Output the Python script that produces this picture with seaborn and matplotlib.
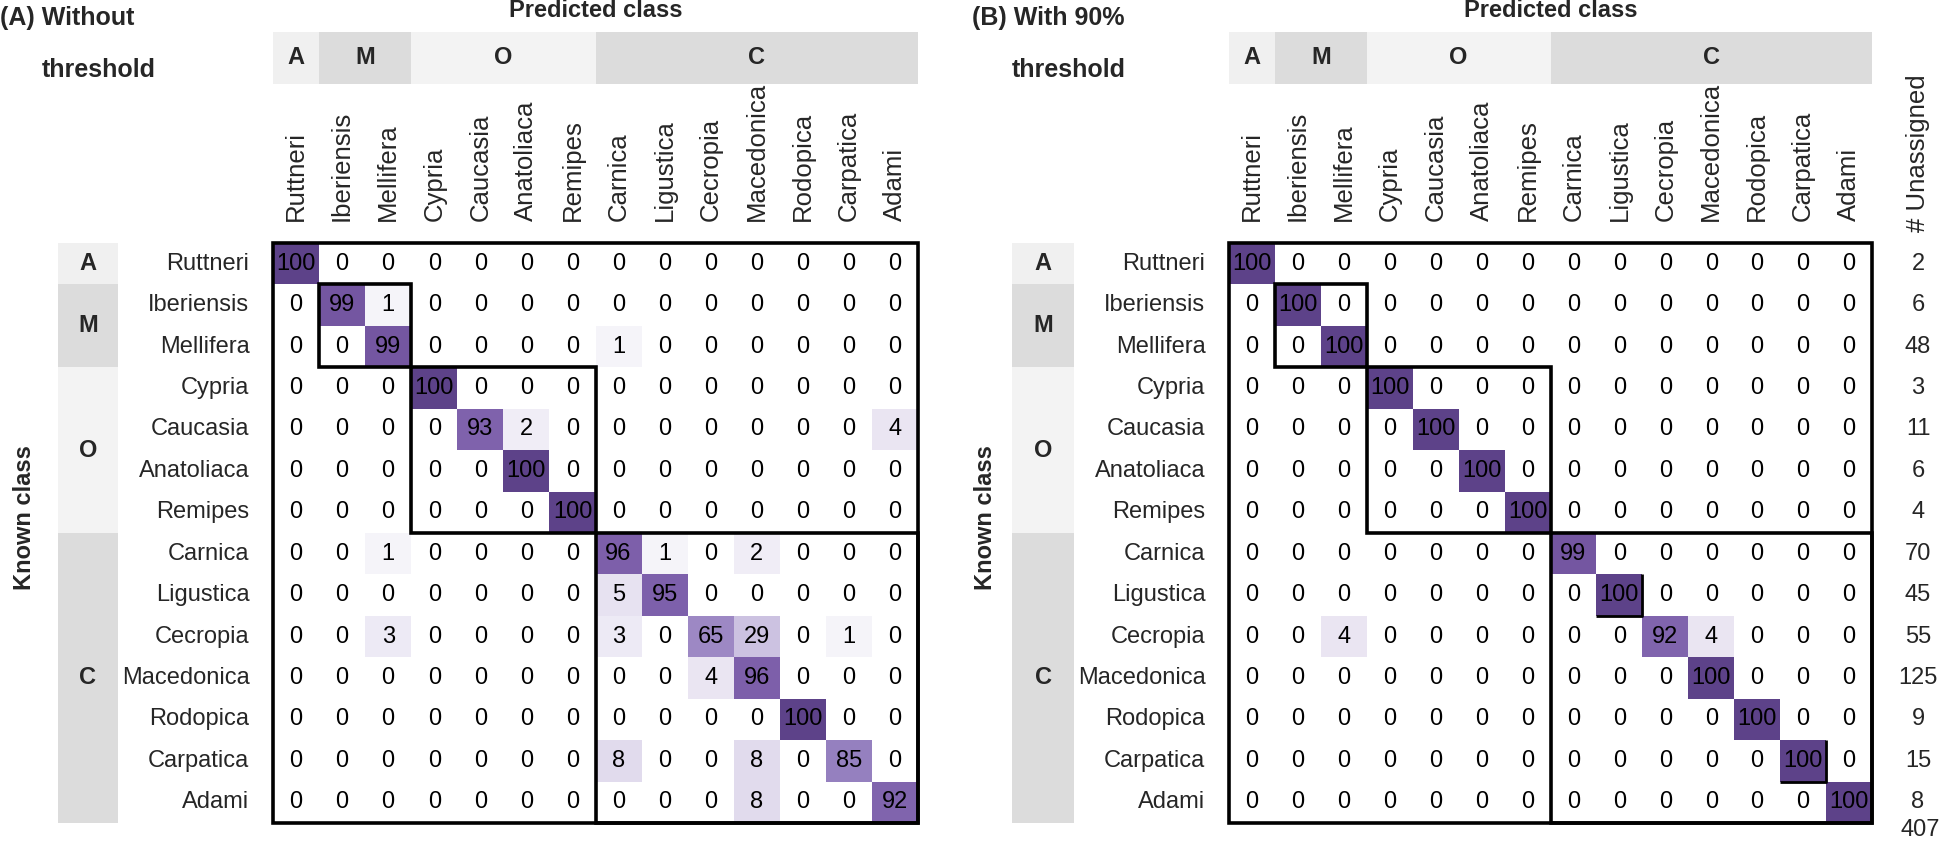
import numpy as np
import pandas as pd
import matplotlib
matplotlib.use('Agg')
import matplotlib.pyplot as plt
from matplotlib.colors import LinearSegmentedColormap
from matplotlib.patches import Rectangle
import seaborn as sns

# Classes and their lineage groups
classes = ['Ruttneri', 'Iberiensis', 'Mellifera', 'Cypria', 'Caucasia', 'Anatoliaca', 'Remipes',
           'Carnica', 'Ligustica', 'Cecropia', 'Macedonica', 'Rodopica', 'Carpatica', 'Adami']
groups = ['A', 'M', 'O', 'C']
group_sizes = [1, 2, 4, 7]
band_colors = ['#f0f0f0', '#dcdcdc', '#f3f3f3', '#dcdcdc']

# (A) % assigned, without threshold
conf_no_thr = [
    [100, 0, 0, 0, 0, 0, 0, 0, 0, 0, 0, 0, 0, 0],
    [0, 99, 1, 0, 0, 0, 0, 0, 0, 0, 0, 0, 0, 0],
    [0, 0, 99, 0, 0, 0, 0, 1, 0, 0, 0, 0, 0, 0],
    [0, 0, 0, 100, 0, 0, 0, 0, 0, 0, 0, 0, 0, 0],
    [0, 0, 0, 0, 93, 2, 0, 0, 0, 0, 0, 0, 0, 4],
    [0, 0, 0, 0, 0, 100, 0, 0, 0, 0, 0, 0, 0, 0],
    [0, 0, 0, 0, 0, 0, 100, 0, 0, 0, 0, 0, 0, 0],
    [0, 0, 1, 0, 0, 0, 0, 96, 1, 0, 2, 0, 0, 0],
    [0, 0, 0, 0, 0, 0, 0, 5, 95, 0, 0, 0, 0, 0],
    [0, 0, 3, 0, 0, 0, 0, 3, 0, 65, 29, 0, 1, 0],
    [0, 0, 0, 0, 0, 0, 0, 0, 0, 4, 96, 0, 0, 0],
    [0, 0, 0, 0, 0, 0, 0, 0, 0, 0, 0, 100, 0, 0],
    [0, 0, 0, 0, 0, 0, 0, 8, 0, 0, 8, 0, 85, 0],
    [0, 0, 0, 0, 0, 0, 0, 0, 0, 0, 8, 0, 0, 92],
]

# (B) % assigned, with 90% threshold
conf_thr90 = [
    [100, 0, 0, 0, 0, 0, 0, 0, 0, 0, 0, 0, 0, 0],
    [0, 100, 0, 0, 0, 0, 0, 0, 0, 0, 0, 0, 0, 0],
    [0, 0, 100, 0, 0, 0, 0, 0, 0, 0, 0, 0, 0, 0],
    [0, 0, 0, 100, 0, 0, 0, 0, 0, 0, 0, 0, 0, 0],
    [0, 0, 0, 0, 100, 0, 0, 0, 0, 0, 0, 0, 0, 0],
    [0, 0, 0, 0, 0, 100, 0, 0, 0, 0, 0, 0, 0, 0],
    [0, 0, 0, 0, 0, 0, 100, 0, 0, 0, 0, 0, 0, 0],
    [0, 0, 0, 0, 0, 0, 0, 99, 0, 0, 0, 0, 0, 0],
    [0, 0, 0, 0, 0, 0, 0, 0, 100, 0, 0, 0, 0, 0],
    [0, 0, 4, 0, 0, 0, 0, 0, 0, 92, 4, 0, 0, 0],
    [0, 0, 0, 0, 0, 0, 0, 0, 0, 0, 100, 0, 0, 0],
    [0, 0, 0, 0, 0, 0, 0, 0, 0, 0, 0, 100, 0, 0],
    [0, 0, 0, 0, 0, 0, 0, 0, 0, 0, 0, 0, 100, 0],
    [0, 0, 0, 0, 0, 0, 0, 0, 0, 0, 0, 0, 0, 100],
]
unassigned = [2, 6, 48, 3, 11, 6, 4, 70, 45, 55, 125, 9, 15, 8]

# stray edge marks in panel B (row, col of cell)
edge_marks_b = [(8, 8), (12, 12)]

cmap = LinearSegmentedColormap.from_list('bee', [
    (0.00, '#ffffff'), (0.005, '#f8f7fb'), (0.01, '#f3f1f8'), (0.05, '#e6e1f0'),
    (0.10, '#ddd6eb'), (0.30, '#cbc1e0'), (0.65, '#9d88c4'), (0.85, '#9580bf'),
    (0.92, '#8064ad'), (0.99, '#7a5ca8'), (1.00, '#5d4289')])

sns.set_theme(style='white')
plt.rcParams['font.family'] = ['Liberation Sans', 'DejaVu Sans']

FIG_W, FIG_H = 1946, 844
FS = 17
fig = plt.figure(figsize=(FIG_W / 100, FIG_H / 100), dpi=100)


def px_axes(left, top, w, h):
    return [left / FIG_W, 1 - (top + h) / FIG_H, w / FIG_W, h / FIG_H]


HM_TOP, HM_H = 243, 580


def draw_panel(ax, data, left, width, band_l, band_r, known_x):
    cw = width / len(classes)
    ch = HM_H / len(classes)
    xp = lambda px: (px - left) / cw
    yp = lambda py: (py - HM_TOP) / ch

    df = pd.DataFrame(data, index=classes, columns=classes)
    sns.heatmap(df, ax=ax, cmap=cmap, vmin=0, vmax=100, annot=True, fmt='d', cbar=False,
                xticklabels=classes, yticklabels=classes,
                annot_kws={'color': 'black', 'fontsize': FS})
    ax.xaxis.tick_top()
    ax.set_xticklabels(classes, rotation=90, fontsize=18.5)
    ax.set_yticklabels(classes, rotation=0, fontsize=FS)
    ax.tick_params(axis='x', top=True, bottom=False, labeltop=True, labelbottom=False,
                   length=0, pad=16)
    ax.tick_params(axis='y', length=0, pad=17)
    ax.set_xlabel('')
    ax.set_ylabel('')

    start = 0
    for g, n, col in zip(groups, group_sizes, band_colors):
        # top band
        ax.add_patch(Rectangle((start, yp(32)), n, yp(84) - yp(32), fc=col, ec='none', clip_on=False))
        ax.text(start + n / 2, yp(58), g, ha='center', va='center', fontsize=FS,
                fontweight='bold', clip_on=False)
        # left band
        ax.add_patch(Rectangle((xp(band_l), start), xp(band_r) - xp(band_l), n, fc=col, ec='none',
                               clip_on=False))
        ax.text((xp(band_l) + xp(band_r)) / 2, start + n / 2, g, ha='center', va='center',
                fontsize=FS, fontweight='bold', clip_on=False)
        if n > 1:
            ax.add_patch(Rectangle((start, start), n, n, fill=False, ec='black', lw=2.6,
                                   clip_on=False, zorder=5))
        start += n
    ax.add_patch(Rectangle((0, 0), len(classes), len(classes), fill=False, ec='black', lw=2.6,
                           clip_on=False, zorder=5))

    ax.text(len(classes) / 2, yp(17), 'Predicted class', ha='center', va='baseline',
            fontsize=FS, fontweight='bold', clip_on=False)
    ax.text(xp(known_x), yp(518), 'Known class', ha='center', va='center', rotation=90,
            fontsize=FS, fontweight='bold', clip_on=False)
    return xp, yp


ax_a = fig.add_axes(px_axes(273, HM_TOP, 645, HM_H))
draw_panel(ax_a, conf_no_thr, 273, 645, 58, 118, 25)

ax_b = fig.add_axes(px_axes(1229, HM_TOP, 643, HM_H))
xp_b, yp_b = draw_panel(ax_b, conf_thr90, 1229, 643, 1012, 1074, 985)

for r, c in edge_marks_b:
    ax_b.plot([c + 1, c + 1, c], [r, r + 1, r + 1], color='black', lw=2, zorder=5,
              solid_capstyle='butt', clip_on=False)

ax_b.text(xp_b(1918), yp_b(232), '# Unassigned', ha='center', va='bottom', rotation=90,
          fontsize=18.5, clip_on=False)
for i, v in enumerate(unassigned):
    ax_b.text(xp_b(1918), i + 0.5, str(v), ha='center', va='center', fontsize=FS, clip_on=False)
ax_b.text(xp_b(1920), yp_b(830), str(sum(unassigned)), ha='center', va='center', fontsize=FS,
          clip_on=False)

# panel titles
for x0, x1, t1 in [(0, 42, '(A) Without'), (972, 1012, '(B) With 90%')]:
    fig.text(x0 / FIG_W, 1 - 25 / FIG_H, t1, ha='left', va='baseline', fontsize=18,
             fontweight='bold')
    fig.text(x1 / FIG_W, 1 - 77 / FIG_H, 'threshold', ha='left', va='baseline', fontsize=18,
             fontweight='bold')

fig.savefig('out.png', dpi=100)
